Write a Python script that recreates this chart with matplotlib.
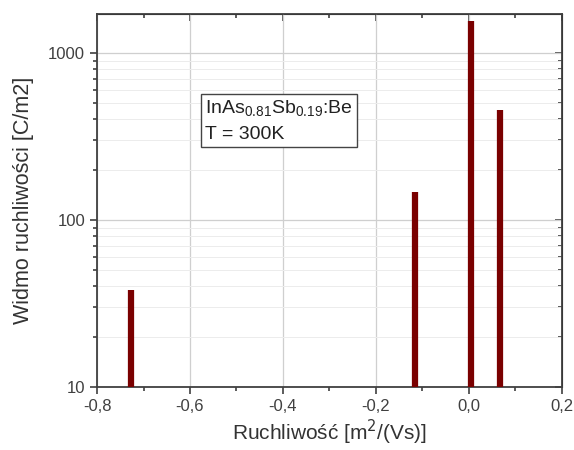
import matplotlib
matplotlib.use("Agg")
import matplotlib.pyplot as plt
from matplotlib.ticker import FixedLocator, MultipleLocator, LogLocator, NullFormatter

plt.rcParams["font.family"] = ["Liberation Sans", "DejaVu Sans"]

# peaks of the mobility spectrum
mobility = [-0.727, -0.116, 0.004, 0.067]
spectrum = [38, 146, 1560, 455]

x_ticks = [-0.8, -0.6, -0.4, -0.2, 0.0, 0.2]
x_labels = ["-0,8", "-0,6", "-0,4", "-0,2", "0,0", "0,2"]
y_ticks = [10, 100, 1000]
y_labels = ["10", "100", "1000"]

fig = plt.figure(figsize=(5.74, 4.5), dpi=100)
ax = fig.add_axes([0.169, 0.14, 0.81, 0.829])

ax.vlines(mobility, 10, spectrum, color="#7a0000", linewidth=4.5, zorder=3)

ax.set_yscale("log")
ax.set_xlim(-0.8, 0.2)
ax.set_ylim(10, 1710)

ax.xaxis.set_major_locator(FixedLocator(x_ticks))
ax.set_xticklabels(x_labels)
ax.xaxis.set_minor_locator(MultipleLocator(0.1))
ax.yaxis.set_major_locator(FixedLocator(y_ticks))
ax.set_yticklabels(y_labels)
ax.yaxis.set_minor_locator(LogLocator(base=10, subs=range(2, 10)))
ax.yaxis.set_minor_formatter(NullFormatter())

ax.grid(True, which="major", axis="x", color="#cfcfcf", linewidth=0.9)
ax.grid(True, which="major", axis="y", color="#cfcfcf", linewidth=0.9)
ax.grid(True, which="minor", axis="y", color="#ececec", linewidth=0.7)
ax.set_axisbelow(True)

ax.tick_params(which="both", direction="out", labelsize=12, width=1.2, colors="#404040")
ax.tick_params(which="major", length=5)
ax.tick_params(which="minor", length=3)
for sp in ax.spines.values():
    sp.set_linewidth(1.3)
    sp.set_color("#404040")

# mirrored ticks on top and right, pointing inward
top = ax.secondary_xaxis("top")
top.xaxis.set_major_locator(FixedLocator(x_ticks))
top.xaxis.set_minor_locator(MultipleLocator(0.1))
top.tick_params(which="both", direction="in", labeltop=False, width=1.2, colors="#404040")
top.tick_params(which="major", length=5)
top.tick_params(which="minor", length=3)
right = ax.secondary_yaxis("right")
right.yaxis.set_major_locator(FixedLocator(y_ticks))
right.yaxis.set_minor_locator(LogLocator(base=10, subs=range(2, 10)))
right.yaxis.set_minor_formatter(NullFormatter())
right.tick_params(which="both", direction="in", labelright=False, width=1.2, colors="#404040")
right.tick_params(which="major", length=5)
right.tick_params(which="minor", length=3)

ax.set_xlabel("Ruchliwość [m$^2$/(Vs)]", fontsize=15, color="#333333", labelpad=3)
ax.set_ylabel("Widmo ruchliwości [C/m2]", fontsize=15.5, color="#333333", labelpad=10)

ax.text(0.233, 0.772, "InAs$_{\\mathregular{0.81}}$Sb$_{\\mathregular{0.19}}$:Be\nT = 300K",
        transform=ax.transAxes, fontsize=14, color="#222222", va="top", ha="left",
        linespacing=1.5,
        bbox=dict(boxstyle="square,pad=0.2", facecolor="white", edgecolor="#444444", linewidth=1.0))

fig.savefig("out.png", dpi=100)
